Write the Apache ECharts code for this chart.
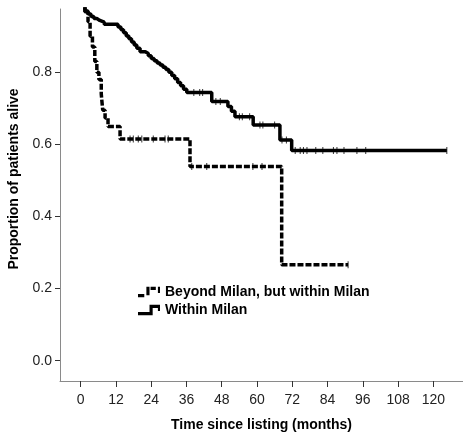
<!DOCTYPE html>
<html>
<head>
<meta charset="utf-8">
<script src="https://cdn.jsdelivr.net/npm/echarts@6/dist/echarts.min.js"></script>
<style>
  html, body { margin: 0; padding: 0; background: #fff; }
  #chart { width: 463px; height: 438px; }
</style>
</head>
<body>
<div id="chart"></div>
<script>
// Kaplan-Meier steps (months, proportion alive)
var withinTimes = [0, 1.4, 2.5, 3.5, 4.5, 5.5, 6.5, 8, 12.7, 13.7, 14.6, 15.5, 16.4, 17.3, 18.2, 19.1, 20.2, 22, 23, 24, 25, 26, 27, 28, 29, 30, 31, 32, 33, 34, 35, 36.1, 44.6, 50.1, 51.3, 52.5, 58.7, 67.8, 71.8, 124.6];
var withinSurv = [1.0, 0.968, 0.962, 0.955, 0.949, 0.944, 0.939, 0.933, 0.926, 0.918, 0.91, 0.901, 0.893, 0.884, 0.876, 0.867, 0.857, 0.852, 0.846, 0.838, 0.832, 0.826, 0.82, 0.814, 0.808, 0.8, 0.791, 0.782, 0.772, 0.763, 0.753, 0.744, 0.719, 0.705, 0.692, 0.677, 0.654, 0.612, 0.583, 0.583];
var withinCensTimes = [38.5, 40.5, 41.5, 46, 47.5, 54, 55, 57.5, 61, 62, 66, 68.5, 70, 73, 74.7, 75.8, 77, 80, 82.4, 86, 87.2, 89.6, 94, 97, 124.6];

var beyondTimes = [0, 1.5, 2.5, 3.2, 4, 4.8, 5.5, 6.2, 7, 7.5, 8.3, 9.3, 13.4, 37.2, 68.4, 91];
var beyondSurv = [1.0, 0.97, 0.94, 0.9, 0.87, 0.83, 0.8, 0.78, 0.74, 0.695, 0.673, 0.65, 0.615, 0.539, 0.266, 0.266];
var beyondCensTimes = [16.8, 17.9, 19.6, 20.8, 24.7, 28.7, 29.8, 37.8, 42.9, 58.6, 61.7, 91];

var xTicks = [0, 12, 24, 36, 48, 60, 72, 84, 96, 108, 120];
var yTicks = [0, 0.2, 0.4, 0.6, 0.8];

var seriesNames = ['Beyond Milan, but within Milan', 'Within Milan'];

// survival value at time t on a step curve
function survAt(times, surv, t) {
  var v = surv[0];
  for (var i = 0; i < times.length; i++) {
    if (times[i] <= t) v = surv[i];
  }
  return v;
}

function zip(a, b) {
  return a.map(function (t, i) { return [t, b[i]]; });
}

var censorMarks = function (times, surv, cens) {
  return cens.map(function (t) { return [t, survAt(times, surv, t)]; });
};

var chart = echarts.init(document.getElementById('chart'));

var axisGray = '#8a8a8a';
var labelStyle = { color: '#222', fontSize: 14, fontFamily: 'Liberation Sans, Arial, sans-serif' };
var titleStyle = { color: '#000', fontSize: 14, fontWeight: 'bold', fontFamily: 'Liberation Sans, Arial, sans-serif' };

var option = {
  animation: false,
  backgroundColor: '#fff',
  grid: { left: 60, top: 9, right: 0, bottom: 57, containLabel: false, outerBoundsMode: 'none' },
  xAxis: {
    type: 'value',
    min: -7.04,
    max: 130.1,
    name: 'Time since listing (months)',
    nameLocation: 'middle',
    nameGap: 37,
    nameTextStyle: titleStyle,
    splitLine: { show: false },
    axisLine: { onZero: false, lineStyle: { color: axisGray, width: 1 } },
    axisTick: { customValues: xTicks, length: 6, lineStyle: { color: '#333' } },
    axisLabel: Object.assign({ customValues: xTicks, margin: 12 }, labelStyle)
  },
  yAxis: {
    type: 'value',
    min: -0.0563,
    max: 0.9756,
    name: 'Proportion of patients alive',
    nameLocation: 'middle',
    nameGap: 29,
    nameTextStyle: Object.assign({ padding: [0, 0, 0, 32] }, titleStyle),
    splitLine: { show: false },
    axisLine: { show: true, onZero: false, lineStyle: { color: axisGray, width: 1 } },
    axisTick: { show: true, customValues: yTicks, length: 5, lineStyle: { color: '#333' } },
    axisLabel: Object.assign({
      customValues: yTicks,
      margin: 8,
      formatter: function (v) { return v.toFixed(1); }
    }, labelStyle)
  },
  legend: {
    orient: 'vertical',
    left: 133,
    top: 280,
    itemGap: 4,
    itemWidth: 22,
    itemHeight: 12,
    textStyle: titleStyle,
    data: [
      { name: seriesNames[0], icon: 'path://M0,8h6v3h-6zM8,1h3v8h-3zM12,1h5v3h-5zM19,1h2v6h-2z' },
      { name: seriesNames[1], icon: 'path://M0,8h11v-7h10v6h-2v-3h-5v7h-14z' }
    ]
  },
  series: [
    {
      name: seriesNames[0],
      type: 'line',
      step: 'end',
      showSymbol: false,
      data: zip(beyondTimes, beyondSurv),
      itemStyle: { color: '#000' },
      lineStyle: { color: '#000', width: 3.5, type: [6, 2] }
    },
    {
      name: seriesNames[1],
      type: 'line',
      step: 'end',
      showSymbol: false,
      data: zip(withinTimes, withinSurv),
      itemStyle: { color: '#000' },
      lineStyle: { color: '#000', width: 3.5 }
    },
    {
      type: 'scatter',
      symbol: 'rect',
      symbolSize: [1, 7],
      silent: true,
      itemStyle: { color: '#000' },
      data: censorMarks(beyondTimes, beyondSurv, beyondCensTimes)
    },
    {
      type: 'scatter',
      symbol: 'rect',
      symbolSize: [1, 7],
      silent: true,
      itemStyle: { color: '#000' },
      data: censorMarks(withinTimes, withinSurv, withinCensTimes)
    }
  ]
};

chart.setOption(option);
</script>
</body>
</html>
